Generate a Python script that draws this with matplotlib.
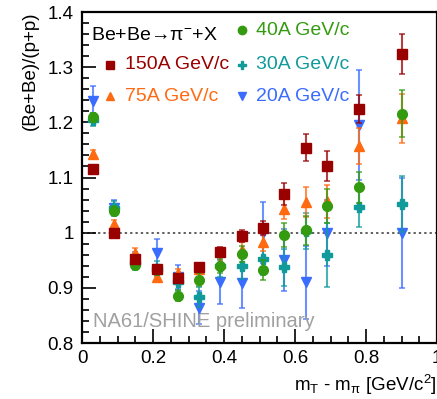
import numpy as np
import matplotlib
matplotlib.use("Agg")
import matplotlib.pyplot as plt
from matplotlib.ticker import MultipleLocator

plt.rcParams['font.family'] = ['Liberation Sans', 'DejaVu Sans']
plt.rcParams['mathtext.fontset'] = 'custom'
plt.rcParams['mathtext.rm'] = 'Liberation Sans'
plt.rcParams['mathtext.it'] = 'Liberation Sans'
plt.rcParams['mathtext.sf'] = 'Liberation Sans'

# data
mt = [0.03, 0.09, 0.15, 0.21, 0.27, 0.33, 0.39, 0.45, 0.51, 0.57, 0.63, 0.69, 0.78, 0.90]

r150 = [1.116, 1.000, 0.953, 0.935, 0.917, 0.937, 0.965, 0.994, 1.009, 1.070, 1.154, 1.121, 1.224, 1.324]
e150 = [0.005, 0.005, 0.006, 0.007, 0.008, 0.008, 0.009, 0.011, 0.013, 0.020, 0.024, 0.027, 0.025, 0.036]

r75 = [1.143, 1.016, 0.964, 0.919, 0.926, 0.935, 0.945, 0.969, 0.983, 1.043, 1.055, 1.057, 1.157, 1.207]
e75 = [0.006, 0.007, 0.008, 0.008, 0.009, 0.010, 0.012, 0.014, 0.016, 0.018, 0.027, 0.030, 0.032, 0.044]

r40 = [1.209, 1.040, 0.942, 0.933, 0.886, 0.915, 0.940, 0.961, 0.933, 0.996, 1.004, 1.049, 1.082, 1.216]
e40 = [0.008, 0.008, 0.008, 0.009, 0.010, 0.011, 0.013, 0.015, 0.018, 0.022, 0.026, 0.031, 0.028, 0.042]

r30 = [1.205, 1.045, 0.945, 0.935, 0.910, 0.884, 0.940, 0.940, 0.952, 0.937, 1.003, 0.960, 1.046, 1.052]
e30 = [0.012, 0.012, 0.012, 0.013, 0.016, 0.018, 0.020, 0.024, 0.028, 0.033, 0.033, 0.058, 0.035, 0.050]

r20 = [1.239, 1.045, 0.950, 0.963, 0.920, 0.864, 0.910, 0.909, 1.000, 0.951, 0.910, 0.999, 1.195, 1.000]
e20 = [0.027, 0.015, 0.015, 0.025, 0.022, 0.030, 0.040, 0.046, 0.055, 0.056, 0.066, 0.060, 0.100, 0.100]

xticks = [0, 0.2, 0.4, 0.6, 0.8, 1.0]
xticklabels = ['0', '0.2', '0.4', '0.6', '0.8', '1']
yticks = [0.8, 0.9, 1.0, 1.1, 1.2, 1.3, 1.4]
yticklabels = ['0.8', '0.9', '1', '1.1', '1.2', '1.3', '1.4']

red = '#990000'
orange = '#ff6a10'
green = '#349a10'
teal = '#109a9a'
blue = '#3a6cff'

fig = plt.figure(figsize=(4.37, 3.99), dpi=100)
ax = fig.add_axes([82/437, 56/399, 355/437, 331/399])

ax.axhline(1.0, color='#333333', ls=(0, (1.5, 2)), lw=1.1, zorder=1)

series = [
    (r20, e20, blue, 'v'),
    (r30, e30, teal, 'P'),
    (r75, e75, orange, '^'),
    (r40, e40, green, 'o'),
    (r150, e150, red, 's'),
]
for i, (y, e, c, m) in enumerate(series):
    # error bars slightly washed out, markers solid
    ax.errorbar(mt, y, yerr=e, fmt='none', ecolor=c, alpha=0.75,
                elinewidth=1.5, capsize=2, capthick=1.2, zorder=3 + i)
    ax.plot(mt, y, ls='none', marker=m, color=c, ms=7, zorder=3.5 + i)

ax.set_xlim(0, 1)
ax.set_ylim(0.8, 1.4)
ax.set_xticks(xticks)
ax.set_xticklabels(xticklabels)
ax.set_yticks(yticks)
ax.set_yticklabels(yticklabels)
ax.xaxis.set_minor_locator(MultipleLocator(0.05))
ax.yaxis.set_minor_locator(MultipleLocator(0.02))
ax.tick_params(which='both', direction='in', top=False, right=False, labelsize=13.5, width=1.2)
ax.tick_params(which='major', length=10)
ax.tick_params(which='minor', length=5)
ax.tick_params(axis='y', pad=6)
ax.tick_params(axis='x', pad=5)
for s in ax.spines.values():
    s.set_linewidth(1.6)

ax.set_ylabel('(Be+Be)/(p+p)', fontsize=13.5, loc='top', labelpad=6)
ax.set_xlabel(r'm$_{T}$ - m$_{\pi}$ [GeV/c$^{2}$]', fontsize=13.5, loc='right', labelpad=4)

# legend as text
ax.text(0.025, 0.93, r'Be+Be→π$^{-}$+X', transform=ax.transAxes,
        fontsize=14, va='center', ha='left')
leg = [
    (0.08, 0.84, red, 's', '150A GeV/c'),
    (0.08, 0.745, orange, '^', '75A GeV/c'),
    (0.45, 0.945, green, 'o', '40A GeV/c'),
    (0.45, 0.84, teal, 'P', '30A GeV/c'),
    (0.45, 0.745, blue, 'v', '20A GeV/c'),
]
for lx, ly, c, m, lab in leg:
    ax.plot([lx], [ly], marker=m, color=c, ms=6, transform=ax.transAxes, clip_on=False)
    ax.text(lx + 0.04, ly, lab, color=c, fontsize=14, va='center', ha='left',
            transform=ax.transAxes)

ax.text(0.03, 0.065, 'NA61/SHINE preliminary', color='#a0a0a0', fontsize=14.5,
        transform=ax.transAxes, va='center', ha='left')

fig.savefig('out.png', dpi=100)
